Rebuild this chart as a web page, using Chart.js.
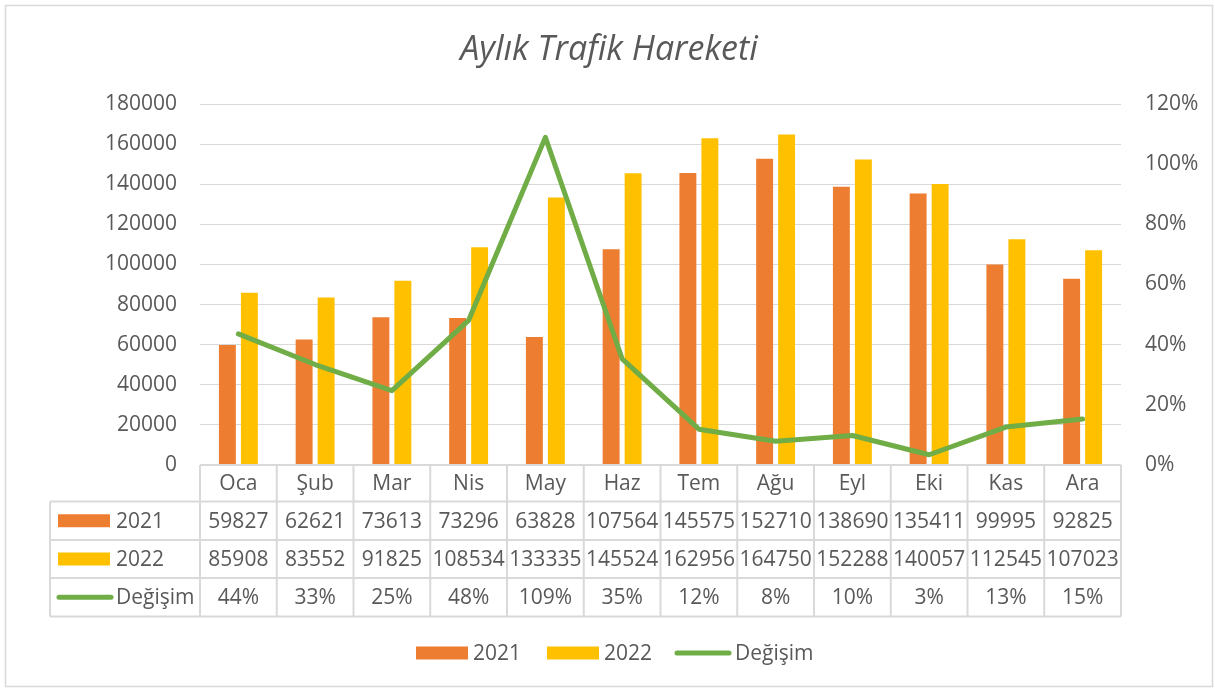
<!DOCTYPE html>
<html>
<head>
<meta charset="utf-8">
<script src="https://cdn.jsdelivr.net/npm/chart.js@4.4.0/dist/chart.umd.min.js"></script>
<style>
html,body{margin:0;padding:0;background:#fff;}
#wrap{width:1215px;height:689px;position:relative;}
</style>
</head>
<body>
<div id="wrap"><canvas id="c" width="1215" height="689"></canvas></div>
<script>
const title = "Aylık Trafik Hareketi";
const months = ["Oca","Şub","Mar","Nis","May","Haz","Tem","Ağu","Eyl","Eki","Kas","Ara"];
const values2021 = [59827,62621,73613,73296,63828,107564,145575,152710,138690,135411,99995,92825];
const values2022 = [85908,83552,91825,108534,133335,145524,162956,164750,152288,140057,112545,107023];
const change = [0.436,0.334,0.247,0.481,1.089,0.353,0.119,0.079,0.098,0.034,0.126,0.153];
const seriesNames = ["2021","2022","Değişim"];
const leftTicks = {min:0,max:180000,step:20000};
const rightTicks = {min:0,max:1.2,step:0.2};

const C_ORANGE = "#ed7d31", C_YELLOW = "#ffc000", C_GREEN = "#70ad47";
const TXT = "#595959", GRID = "#d9d9d9";
const FONT = "'Open Sans', sans-serif";

const pctFmt = v => Math.round(v*100) + "%";

const decor = {
  id: "decor",
  beforeDraw(chart){
    const ctx = chart.ctx;
    ctx.save();
    ctx.fillStyle = "#fff";
    ctx.fillRect(0,0,chart.width,chart.height);
    ctx.strokeStyle = GRID; ctx.lineWidth = 1.5;
    ctx.strokeRect(5.5,5.5,1207,681);
    ctx.restore();
  },
  afterDraw(chart){
    const ctx = chart.ctx;
    const xs = chart.scales.x;
    const ca = chart.chartArea;
    const n = months.length;
    const colW = (ca.right - ca.left)/n;
    ctx.save();
    // title
    ctx.fillStyle = TXT;
    ctx.font = "italic 34px " + FONT;
    ctx.textAlign = "center"; ctx.textBaseline = "middle";
    ctx.fillText(title, 609, 50);

    // table
    const rowsY = [ca.bottom, 501.5, 540, 578, 616.5];
    const tableLeft = 50;
    ctx.strokeStyle = GRID; ctx.lineWidth = 2;
    ctx.beginPath();
    ctx.moveTo(ca.left, rowsY[0]); ctx.lineTo(ca.right, rowsY[0]);
    for (let r=1;r<rowsY.length;r++){ ctx.moveTo(tableLeft, rowsY[r]); ctx.lineTo(ca.right, rowsY[r]); }
    for (let i=0;i<=n;i++){
      const x = ca.left + i*colW;
      ctx.moveTo(x, rowsY[0]); ctx.lineTo(x, rowsY[4]);
    }
    ctx.moveTo(tableLeft, rowsY[1]); ctx.lineTo(tableLeft, rowsY[4]);
    ctx.stroke();

    ctx.fillStyle = TXT;
    ctx.font = "21px " + FONT;
    ctx.textAlign = "center"; ctx.textBaseline = "middle";
    const rowData = [months, values2021.map(String), values2022.map(String), change.map(pctFmt)];
    for (let r=0;r<4;r++){
      const cy = (rowsY[r] + rowsY[r+1])/2 + 1;
      for (let i=0;i<n;i++){
        ctx.fillText(rowData[r][i], xs.getPixelForValue(i), cy);
      }
    }
    ctx.textAlign = "left";
    for (let r=1;r<4;r++){
      const cy = (rowsY[r] + rowsY[r+1])/2;
      drawKey(ctx, r-1, 58, cy);
      ctx.fillStyle = TXT;
      ctx.fillText(seriesNames[r-1], 116, cy + 1);
    }

    // legend
    const ly = 653;
    const items = [[416,473],[547,604],[676,735]];
    for (let k=0;k<3;k++){
      drawKey(ctx, k, items[k][0], ly);
      ctx.fillStyle = TXT;
      ctx.textAlign = "left";
      ctx.font = "21px " + FONT;
      ctx.fillText(seriesNames[k], items[k][1], ly + 1);
    }
    ctx.restore();
  }
};

function drawKey(ctx, k, x, cy){
  if (k < 2){
    ctx.fillStyle = k === 0 ? C_ORANGE : C_YELLOW;
    ctx.fillRect(x, cy - 6.5, 52, 13);
  } else {
    ctx.strokeStyle = C_GREEN; ctx.lineWidth = 5; ctx.lineCap = "round";
    ctx.beginPath(); ctx.moveTo(x + 1, cy); ctx.lineTo(x + 53, cy); ctx.stroke();
    ctx.lineCap = "butt";
  }
}

new Chart(document.getElementById("c"), {
  type: "bar",
  data: {
    labels: months,
    datasets: [
      {type:"line", label: seriesNames[2], data: change, yAxisID:"y1", borderColor:C_GREEN, backgroundColor:C_GREEN,
       borderWidth:5, pointRadius:0, tension:0, order:0, borderJoinStyle:"round", borderCapStyle:"round"},
      {label: seriesNames[0], data: values2021, backgroundColor:C_ORANGE, yAxisID:"y", order:1,
       categoryPercentage:0.573, barPercentage:0.77},
      {label: seriesNames[1], data: values2022, backgroundColor:C_YELLOW, yAxisID:"y", order:1,
       categoryPercentage:0.573, barPercentage:0.77}
    ]
  },
  options: {
    responsive:false,
    animation:false,
    devicePixelRatio:1,
    layout:{padding:{top:104,bottom:224,left:0,right:0}},
    plugins:{legend:{display:false}, title:{display:false}, tooltip:{enabled:false}},
    scales:{
      x:{display:false, offset:true},
      y:{position:"left", min:leftTicks.min, max:leftTicks.max,
         ticks:{stepSize:leftTicks.step, color:TXT, font:{family:FONT, size:21}, padding:23, callback:v => String(v)},
         grid:{color:GRID, lineWidth:1, drawTicks:false}, border:{display:false},
         afterFit(s){ s.width = 200; }},
      y1:{position:"right", min:rightTicks.min, max:rightTicks.max,
         ticks:{stepSize:rightTicks.step, color:TXT, font:{family:FONT, size:21}, padding:24, callback:pctFmt},
         grid:{display:false, drawTicks:false}, border:{display:false},
         afterFit(s){ s.width = 94; }}
    }
  },
  plugins:[decor]
});
</script>
</body>
</html>
